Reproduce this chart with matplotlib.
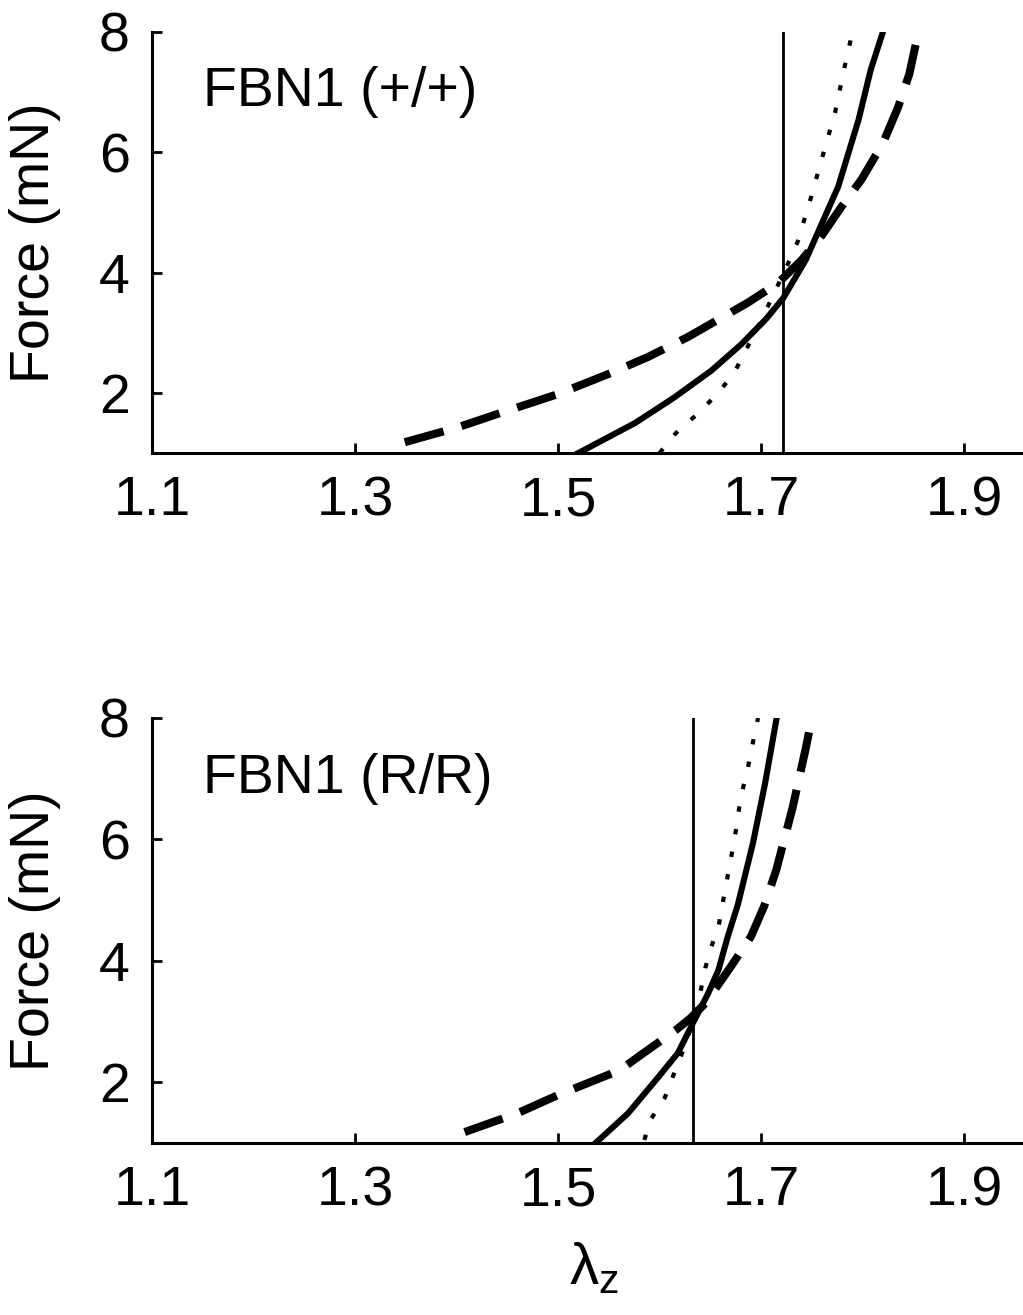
import matplotlib.pyplot as plt

plt.rcParams['font.family'] = ['Liberation Sans', 'DejaVu Sans']
plt.rcParams['mathtext.fontset'] = 'custom'
plt.rcParams['mathtext.rm'] = 'Liberation Sans'
plt.rcParams['mathtext.it'] = 'Liberation Sans'

# FBN1 (+/+)
top_dash_x = [1.349, 1.40, 1.444, 1.50, 1.552, 1.589, 1.628, 1.687, 1.717, 1.740, 1.760, 1.779, 1.799, 1.820, 1.835, 1.846, 1.855]
top_dash_y = [1.18, 1.42, 1.67, 1.98, 2.33, 2.60, 2.93, 3.50, 3.83, 4.21, 4.62, 5.09, 5.55, 6.15, 6.75, 7.30, 8.0]
top_solid_x = [1.52, 1.576, 1.615, 1.651, 1.680, 1.705, 1.722, 1.744, 1.776, 1.796, 1.808, 1.820]
top_solid_y = [1.0, 1.5, 1.93, 2.37, 2.80, 3.23, 3.58, 4.21, 5.43, 6.54, 7.37, 8.0]
top_dot_x = [1.600, 1.616, 1.636, 1.658, 1.674, 1.700, 1.725, 1.736, 1.749, 1.761, 1.773, 1.782, 1.790]
top_dot_y = [1.0, 1.33, 1.63, 2.0, 2.35, 3.2, 4.09, 4.51, 5.24, 5.96, 6.67, 7.4, 8.0]
top_ref = 1.722

# FBN1 (R/R)
bot_dash_x = [1.408, 1.46, 1.50, 1.561, 1.579, 1.616, 1.630, 1.645, 1.670, 1.690, 1.703, 1.715, 1.731, 1.744, 1.750]
bot_dash_y = [1.18, 1.49, 1.79, 2.2, 2.42, 2.86, 3.05, 3.3, 3.9, 4.4, 4.9, 5.5, 6.52, 7.5, 8.0]
bot_solid_x = [1.537, 1.569, 1.599, 1.618, 1.633, 1.648, 1.658, 1.667, 1.677, 1.692, 1.704, 1.715]
bot_solid_y = [1.0, 1.49, 2.09, 2.48, 2.98, 3.47, 3.85, 4.39, 4.92, 5.94, 6.93, 7.97]
bot_dot_x = [1.585, 1.591, 1.605, 1.613, 1.625, 1.638, 1.645, 1.651, 1.658, 1.666, 1.674, 1.680, 1.686, 1.694, 1.697]
bot_dot_y = [1.05, 1.38, 1.74, 2.09, 2.6, 3.3, 3.88, 4.23, 4.56, 5.3, 6.02, 6.7, 7.1, 7.77, 8.0]
bot_ref = 1.633

labels = ["FBN1 (+/+)", "FBN1 (R/R)"]
xticks = [1.1, 1.3, 1.5, 1.7, 1.9]
yticks = [2, 4, 6, 8]

fig = plt.figure(figsize=(10.23, 13.15), dpi=100)
ax1 = fig.add_axes([0.1486, 0.6555, 0.8514, 0.3202])
ax2 = fig.add_axes([0.1486, 0.1308, 0.8514, 0.3232])

panels = [
    (ax1, top_dash_x, top_dash_y, top_solid_x, top_solid_y, top_dot_x, top_dot_y, top_ref, labels[0]),
    (ax2, bot_dash_x, bot_dash_y, bot_solid_x, bot_solid_y, bot_dot_x, bot_dot_y, bot_ref, labels[1]),
]

for ax, dx, dy, sx, sy, px, py, ref, lab in panels:
    ax.plot(dx, dy, color='black', lw=5.8, dashes=(5.0, 2.3))
    ax.plot(sx, sy, color='black', lw=4.4)
    ax.plot(px, py, color='black', lw=3.0, dashes=(1.3, 4.2))
    ax.axvline(ref, color='black', lw=2.0)
    ax.set_xlim(1.1, 1.958)
    ax.set_ylim(1, 8)
    ax.set_xticks(xticks)
    ax.set_xticklabels([f"{t:.1f}" for t in xticks])
    ax.set_yticks(yticks)
    ax.tick_params(direction='in', length=7, width=2.0, labelsize=40, pad=16)
    for s in ['top', 'right']:
        ax.spines[s].set_visible(False)
    for s in ['left', 'bottom']:
        ax.spines[s].set_linewidth(2.2)
    ax.text(0.0586, 0.857, lab, transform=ax.transAxes, fontsize=40, va='center', ha='left')
    ax.set_ylabel("Force (mN)", fontsize=40)
    ax.yaxis.set_label_coords(-0.104, 0.5)

ax2.set_xlabel(r"$\lambda_{z}$", fontsize=42)
ax2.xaxis.set_label_coords(0.507, -0.23)

fig.savefig("out.png", dpi=100)
